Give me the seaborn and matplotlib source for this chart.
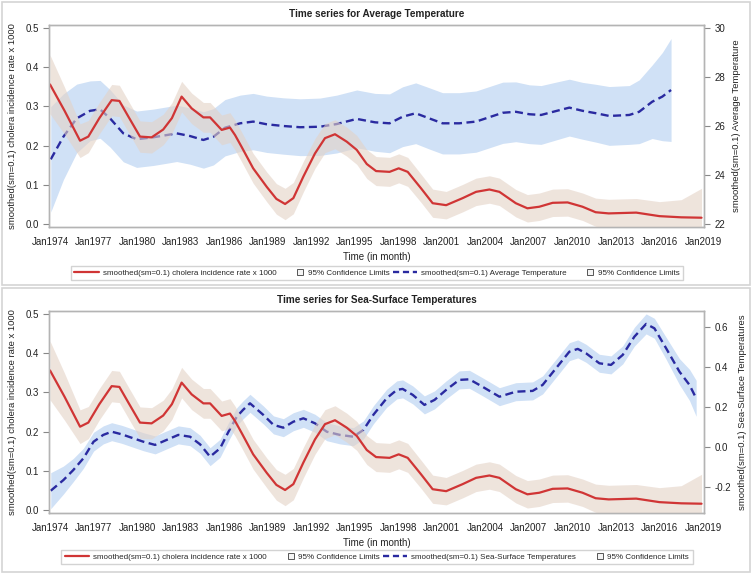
import numpy as np
import pandas as pd
import matplotlib
matplotlib.use('Agg')
import matplotlib.pyplot as plt
import seaborn as sns
from matplotlib.lines import Line2D
from matplotlib.patches import Rectangle
from matplotlib.legend_handler import HandlerLine2D
from matplotlib.ticker import FormatStrFormatter

# smoothed cholera incidence rate x 1000 (same series in both panels)
chol_year = [1974.0, 1975.0, 1976.07, 1976.64, 1977.4, 1978.25, 1978.78, 1979.4, 1980.2, 1981.0,
             1981.8, 1982.4, 1983.07, 1983.76, 1984.57, 1985.03, 1985.83, 1986.4, 1986.75, 1987.2,
             1988.0, 1988.93, 1989.6, 1990.2, 1990.77, 1991.46, 1992.26, 1992.95, 1993.64, 1994.45,
             1995.14, 1995.83, 1996.47, 1997.4, 1998.03, 1998.65, 1999.57, 2000.37, 2001.3, 2002.44,
             2003.36, 2004.28, 2004.97, 2006.1, 2006.9, 2007.72, 2008.64, 2009.67, 2010.7, 2011.6,
             2012.5, 2014.4, 2016.0, 2017.5, 2018.9]
chol_rate = [0.356, 0.289, 0.2125, 0.223, 0.27, 0.316, 0.314, 0.274, 0.223, 0.221,
             0.241, 0.27, 0.325, 0.295, 0.272, 0.272, 0.24, 0.246, 0.227, 0.197,
             0.142, 0.095, 0.064, 0.051, 0.066, 0.121, 0.18, 0.219, 0.229, 0.21,
             0.189, 0.153, 0.135, 0.133, 0.142, 0.133, 0.091, 0.053, 0.048, 0.066,
             0.082, 0.088, 0.082, 0.053, 0.04, 0.044, 0.054, 0.055, 0.044, 0.03,
             0.027, 0.029, 0.02, 0.017, 0.016]
# half width of the 95% band
chol_ci = [0.075, 0.06, 0.043, 0.041, 0.04, 0.04, 0.04, 0.04, 0.04, 0.04,
           0.039, 0.039, 0.039, 0.039, 0.038, 0.038, 0.038, 0.038, 0.038, 0.038,
           0.038, 0.038, 0.039, 0.04, 0.04, 0.039, 0.038, 0.037, 0.037, 0.037,
           0.037, 0.037, 0.037, 0.037, 0.037, 0.037, 0.036, 0.036, 0.035, 0.035,
           0.035, 0.035, 0.035, 0.035, 0.035, 0.035, 0.035, 0.035, 0.035, 0.036,
           0.036, 0.036, 0.037, 0.045, 0.075]

# smoothed average temperature
temp_year = [1974.05, 1974.92, 1975.84, 1976.76, 1977.45, 1978.14, 1979.05, 1979.97, 1981.12, 1982.04,
             1982.73, 1983.65, 1984.57, 1985.26, 1986.06, 1987.1, 1988.0, 1988.93, 1990.08, 1991.23,
             1992.6, 1993.76, 1995.14, 1996.4, 1997.4, 1998.3, 1999.2, 2000.14, 2001.05, 2002.2,
             2003.36, 2004.28, 2005.2, 2006.1, 2007.03, 2007.84, 2008.87, 2009.79, 2010.7, 2011.63,
             2012.54, 2013.92, 2014.6, 2015.5, 2016.2, 2016.8]
temp_val = [24.64, 25.56, 26.31, 26.62, 26.68, 26.31, 25.7, 25.46, 25.54, 25.63,
            25.7, 25.59, 25.43, 25.56, 25.93, 26.11, 26.18, 26.07, 26.0, 25.95,
            25.97, 26.08, 26.29, 26.15, 26.11, 26.38, 26.52, 26.31, 26.11, 26.11,
            26.18, 26.36, 26.54, 26.58, 26.48, 26.45, 26.61, 26.75, 26.62, 26.52,
            26.41, 26.45, 26.58, 26.99, 27.2, 27.47]
temp_ci = [2.15, 1.75, 1.4, 1.22, 1.18, 1.17, 1.16, 1.15, 1.15, 1.15,
           1.15, 1.15, 1.15, 1.15, 1.15, 1.15, 1.15, 1.15, 1.15, 1.16,
           1.17, 1.18, 1.18, 1.18, 1.2, 1.22, 1.24, 1.25, 1.25, 1.25,
           1.25, 1.25, 1.25, 1.22, 1.2, 1.2, 1.18, 1.16, 1.16, 1.18,
           1.2, 1.2, 1.3, 1.5, 1.8, 2.1]

# smoothed sea-surface temperatures
sst_year = [1974.05, 1974.92, 1975.6, 1976.3, 1977.0, 1977.67, 1978.25, 1978.94, 1979.74, 1980.43,
            1981.24, 1982.04, 1982.84, 1983.65, 1984.34, 1985.03, 1985.72, 1986.3, 1986.87, 1987.3,
            1987.78, 1988.7, 1989.4, 1990.08, 1990.77, 1991.46, 1992.26, 1993.07, 1993.98, 1994.9,
            1995.6, 1996.29, 1997.2, 1997.9, 1998.3, 1999.0, 1999.8, 2000.5, 2001.3, 2002.2,
            2002.9, 2003.8, 2004.97, 2006.1, 2007.26, 2007.95, 2008.87, 2009.79, 2010.37, 2010.94,
            2011.86, 2012.66, 2013.47, 2014.27, 2015.08, 2015.65, 2016.46, 2017.38, 2018.07, 2018.53]
sst_val = [-0.22, -0.167, -0.117, -0.058, 0.025, 0.059, 0.075, 0.062, 0.042, 0.025,
           0.009, 0.034, 0.059, 0.05, 0.012, -0.05, -0.008, 0.075, 0.15, 0.184,
           0.217, 0.159, 0.109, 0.095, 0.125, 0.142, 0.117, 0.075, 0.059, 0.05,
           0.084, 0.16, 0.242, 0.284, 0.289, 0.259, 0.209, 0.234, 0.284, 0.334,
           0.337, 0.3, 0.25, 0.275, 0.279, 0.309, 0.392, 0.475, 0.489, 0.467,
           0.417, 0.409, 0.459, 0.55, 0.614, 0.592, 0.492, 0.375, 0.309, 0.242]
sst_ci = [0.09, 0.07, 0.058, 0.05, 0.047, 0.045, 0.045, 0.045, 0.045, 0.045,
          0.045, 0.045, 0.045, 0.045, 0.045, 0.045, 0.045, 0.045, 0.045, 0.045,
          0.045, 0.045, 0.045, 0.045, 0.045, 0.045, 0.045, 0.045, 0.045, 0.045,
          0.045, 0.045, 0.045, 0.045, 0.045, 0.045, 0.045, 0.045, 0.045, 0.045,
          0.045, 0.045, 0.045, 0.045, 0.045, 0.045, 0.045, 0.045, 0.045, 0.045,
          0.045, 0.045, 0.045, 0.047, 0.05, 0.05, 0.055, 0.065, 0.078, 0.09]

tick_years = list(range(1974, 2020, 3))
tick_labels = ['Jan%d' % y for y in tick_years]

chol_label = 'smoothed(sm=0.1) cholera incidence rate x 1000'

sns.set_style('white')
plt.rcParams['font.family'] = ['Liberation Sans', 'DejaVu Sans']

RED = '#d03535'
NAVY = '#2a2aa0'
BLUE_BAND = '#d0e1f6'
BEIGE_BAND = '#e4d2c6'
FRAME = '#b4b4b4'
TXT = '#222222'

W, H = 752, 574
fig = plt.figure(figsize=(W / 100, H / 100), dpi=100)


def px_box(left, top, right, bottom):
    return [left / W, 1 - bottom / H, (right - left) / W, (bottom - top) / H]


class SquareRight(HandlerLine2D):
    # single open square pushed to the right end of the handle slot
    def get_xdata(self, legend, xdescent, ydescent, width, height, fontsize):
        x = np.array([width - xdescent - 5.0, width - xdescent])
        return x, np.array([width - xdescent - 2.5])


def style_axis(ax):
    for s in ax.spines.values():
        s.set_color(FRAME)
        s.set_linewidth(1.0)
    ax.tick_params(direction='out', length=4, width=0.8, color='#888888',
                   labelsize=7, labelcolor=TXT)


def panel(top, title, sec_df, sec_name, sec_ylim, sec_ticks, sec_fmt, legend_y):
    chol_df = pd.DataFrame({'year': chol_year, 'value': chol_rate, 'ci': chol_ci})
    chol_df['lo'] = chol_df['value'] - chol_df['ci']
    chol_df['hi'] = chol_df['value'] + chol_df['ci']

    # secondary series on the base axes (drawn underneath), right-hand ticks
    ax_sec = fig.add_axes(px_box(49, top, 704, top + 202))
    ax_chol = ax_sec.twinx()

    ax_sec.fill_between(sec_df['year'], sec_df['lo'], sec_df['hi'], color=BLUE_BAND, lw=0)
    sns.lineplot(data=sec_df, x='year', y='value', ax=ax_sec, color=NAVY, lw=1.7,
                 linestyle=(0, (3.4, 1.9)), errorbar=None)

    ax_chol.fill_between(chol_df['year'], chol_df['lo'], chol_df['hi'],
                         color=BEIGE_BAND, alpha=0.6, lw=0)
    sns.lineplot(data=chol_df, x='year', y='value', ax=ax_chol, color=RED, lw=1.6,
                 errorbar=None)

    ax_sec.yaxis.tick_right()
    ax_sec.yaxis.set_label_position('right')
    ax_chol.yaxis.tick_left()
    ax_chol.yaxis.set_label_position('left')

    ax_sec.set_xlim(1973.93, 2019.07)
    ax_sec.set_xticks(tick_years)
    ax_sec.set_xticklabels(tick_labels)
    ax_sec.set_ylim(*sec_ylim)
    ax_sec.set_yticks(sec_ticks)
    ax_sec.yaxis.set_major_formatter(FormatStrFormatter(sec_fmt))
    ax_chol.set_ylim(-0.0077, 0.5077)
    ax_chol.set_yticks([0.0, 0.1, 0.2, 0.3, 0.4, 0.5])
    ax_chol.yaxis.set_major_formatter(FormatStrFormatter('%.1f'))

    style_axis(ax_sec)
    style_axis(ax_chol)

    ax_sec.set_xlabel('Time (in month)', fontsize=7, color=TXT, labelpad=3)
    ax_sec.set_ylabel('smoothed(sm=0.1) ' + sec_name, fontsize=6.8, color=TXT, labelpad=5)
    ax_chol.set_ylabel(chol_label, fontsize=6.8, color=TXT, labelpad=6)

    fig.text(377 / W, 1 - (top - 11) / H, title, ha='center', va='center',
             fontsize=7.2, fontweight='bold', color=TXT)

    handles = [Line2D([], [], color=RED, lw=1.6),
               Line2D([], [], marker='s', ls='none', markersize=5,
                      markerfacecolor='#f4f4f4', markeredgecolor='#555555', markeredgewidth=0.7),
               Line2D([], [], color=NAVY, lw=1.7, linestyle=(0, (2.6, 1.6))),
               Line2D([], [], marker='s', ls='none', markersize=5,
                      markerfacecolor='#f4f4f4', markeredgecolor='#555555', markeredgewidth=0.7)]
    labels = [chol_label, '95% Confidence Limits',
              'smoothed(sm=0.1) ' + sec_name, '95% Confidence Limits']
    fig.legend(handles, labels, loc='center', bbox_to_anchor=(377 / W, 1 - legend_y / H),
               ncol=4, fontsize=5.8, frameon=True, fancybox=False, edgecolor='#c8c8c8',
               handlelength=3.0, handletextpad=0.5, columnspacing=0.4, borderpad=0.45,
               handler_map={handles[1]: SquareRight(), handles[3]: SquareRight()})


temp_df = pd.DataFrame({'year': temp_year, 'value': temp_val, 'ci': temp_ci})
temp_df['lo'] = temp_df['value'] - temp_df['ci']
temp_df['hi'] = temp_df['value'] + temp_df['ci']

sst_df = pd.DataFrame({'year': sst_year, 'value': sst_val, 'ci': sst_ci})
sst_df['lo'] = sst_df['value'] - sst_df['ci']
sst_df['hi'] = sst_df['value'] + sst_df['ci']

panel(25, 'Time series for Average Temperature', temp_df, 'Average Temperature',
      (21.878, 30.122), [22, 24, 26, 28, 30], '%d', 273)
panel(311, 'Time series for Sea-Surface Temperatures', sst_df, 'Sea-Surface Temperatures',
      (-0.3315, 0.6785), [-0.2, 0.0, 0.2, 0.4, 0.6], '%.1f', 557)

# light frames around the two output panels
for y0, y1 in [(2, 285), (288, 572)]:
    fig.patches.append(Rectangle((2 / W, 1 - y1 / H), (W - 4) / W, (y1 - y0) / H,
                                 transform=fig.transFigure, fill=False,
                                 edgecolor='#d4d4d4', lw=1.2))

fig.savefig('out.png', dpi=100)
